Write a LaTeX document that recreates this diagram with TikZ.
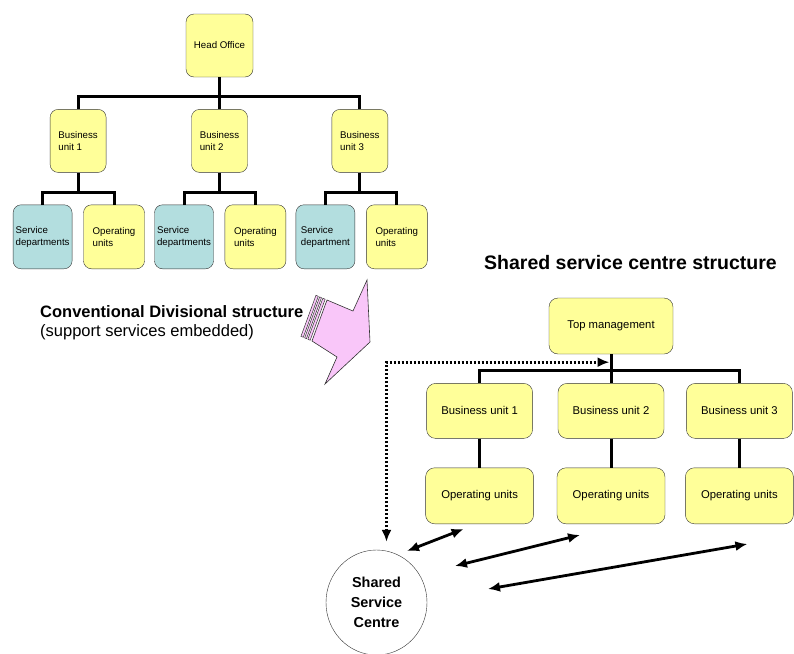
\documentclass[tikz,border=0pt]{standalone}
\usepackage{fontspec}
\setmainfont{Liberation Sans}
\usetikzlibrary{arrows.meta,positioning,shapes.geometric,calc}
\definecolor{boxYellow}{HTML}{FFFF99}
\definecolor{boxBlue}{HTML}{B3DEDF}
\definecolor{arrPink}{HTML}{F9C6F9}
\definecolor{boxLine}{HTML}{333333}
\begin{document}
\begin{tikzpicture}[x=1pt, y=-1pt,
  unit/.style={draw=boxLine, fill=boxYellow, rounded corners=8pt, align=left, inner sep=2pt, minimum height=63pt, font=\fontsize{9.7}{12}\selectfont},
  svc/.style={unit, fill=boxBlue, minimum width=59pt, minimum height=64pt},
  opu/.style={unit, minimum width=61pt, minimum height=64pt},
  bigunit/.style={unit, rounded corners=9pt, align=center, minimum width=106pt, minimum height=55pt, font=\fontsize{11.3}{13}\selectfont},
  hub/.style={ellipse, draw=boxLine, minimum width=101pt, minimum height=105pt, inner sep=0pt, align=center, font=\fontsize{14.4}{20}\selectfont\bfseries},
  tree/.style={line width=3pt, black},
  dbl/.style={{Latex[length=12pt,width=10pt]}-{Latex[length=12pt,width=10pt]}, line width=2.8pt},
  dots/.style={{Latex[length=12pt,width=10pt]}-{Latex[length=12pt,width=10pt]}, line width=3pt, dash pattern=on 2.4pt off 1.6pt},
  lab/.style={inner sep=0pt, anchor=base west}]
\useasboundingbox (0,0) rectangle (794,653);
\node[unit, minimum width=67pt] (ho) at (219.5,45.5) {Head Office};
\node[unit, minimum width=56pt, below=32pt of ho] (bu2) {Business\\unit 2};
\node[unit, minimum width=56pt, left=85pt of bu2] (bu1) {Business\\unit 1};
\node[unit, minimum width=56pt, right=84pt of bu2] (bu3) {Business\\unit 3};
\node[svc, below=32pt of bu1, xshift=-35.5pt] (sd1) {Service\\departments};
\node[opu, right=11pt of sd1] (ou1) {Operating\\units};
\node[svc, below=32pt of bu2, xshift=-35.5pt] (sd2) {Service\\departments};
\node[opu, right=11pt of sd2] (ou2) {Operating\\units};
\node[svc, below=32pt of bu3, xshift=-34.5pt] (sd3) {Service\\department};
\node[opu, right=11pt of sd3] (ou3) {Operating\\units};
\draw[tree] (ho.south) -- ++(0,19) coordinate (hoj);
\draw[tree] (bu1.north) |- (hoj) -| (bu3.north);
\draw[tree] (hoj) -- (bu2.north);
\foreach \i in {1,2,3} {
  \draw[tree] (bu\i.south) -- ++(0,20) coordinate (buj\i);
  \draw[tree] (sd\i.north) |- (buj\i) -| (ou\i.north);
}
\node[lab, font=\fontsize{16.5}{19}\selectfont\bfseries] (cdtitle) at (40,317) {Conventional Divisional structure};
\node[lab, font=\fontsize{16.5}{19}\selectfont] (cdsub) at (40,336) {(support services embedded)};
\coordinate (pA) at (327,300);
\coordinate (pB) at (353,311);
\coordinate (pC) at (367,280);
\coordinate (pD) at (370,342);
\coordinate (pE) at (325,384);
\coordinate (pF) at (337,357);
\coordinate (pG) at (312,341);
\filldraw[fill=arrPink, draw=boxLine, line width=0.6pt] (pA) -- (pB) -- (pC) -- (pD) -- (pE) -- (pF) -- (pG) -- cycle;
\foreach \a/\b in {2/4.5, 6/8, 9.5/12}
  \filldraw[fill=arrPink, draw=boxLine, line width=0.5pt] ($(pA)+\a*(-0.92,-0.39)$) -- ($(pA)+\b*(-0.92,-0.39)$) -- ($(pG)+\b*(-0.92,-0.39)$) -- ($(pG)+\a*(-0.92,-0.39)$) -- cycle;
\node[lab, font=\fontsize{19.5}{22}\selectfont\bfseries] (sstitle) at (484,269) {Shared service centre structure};
\node[bigunit, minimum width=124pt, minimum height=56pt] (tm) at (611,326) {Top management};
\node[bigunit, below=29pt of tm] (sbu2) {Business unit 2};
\node[bigunit, left=25pt of sbu2] (sbu1) {Business unit 1};
\node[bigunit, right=22pt of sbu2] (sbu3) {Business unit 3};
\foreach \i in {1,2,3}
  \node[bigunit, minimum width=108pt, minimum height=56pt, below=29pt of sbu\i] (sou\i) {Operating units};
\draw[tree] (tm.south) -- ++(0,16) coordinate (tmj);
\draw[tree] (sbu1.north) |- (tmj) -| (sbu3.north);
\draw[tree] (tmj) -- (sbu2.north);
\foreach \i in {1,2,3}
  \draw[tree] (sbu\i.south) -- (sou\i.north);
\node[hub] (ssc) at (376.5,602.5) {Shared\\Service\\Centre};
\coordinate (sscin) at ([shift={(10,-8)}]ssc.north);
\draw[dots] (sscin) |- ([shift={(-1.5,8)}]tm.south);
\draw[dbl] ([shift={(30.5,-51.5)}]ssc.center) -- ([shift={(-16,5)}]sou1.south);
\draw[dbl] ([shift={(78.5,-36.5)}]ssc.center) -- ([shift={(-31,11)}]sou2.south);
\draw[dbl] ([shift={(111.5,-13.5)}]ssc.center) -- ([shift={(8,20)}]sou3.south);
\end{tikzpicture}
\end{document}
